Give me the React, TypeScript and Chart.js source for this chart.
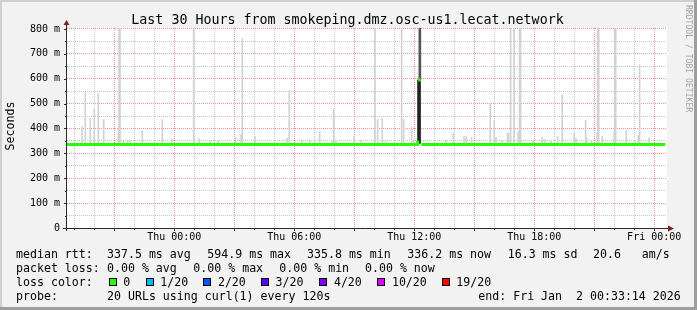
import React, { useEffect, useRef } from 'react';
import { Chart, registerables } from 'chart.js';

Chart.register(...registerables);

const MONO = '"DejaVu Sans Mono", "Liberation Mono", monospace';

const CHART_TITLE = 'Last 30 Hours from smokeping.dmz.osc-us1.lecat.network';
const Y_TITLE = 'Seconds';
const WATERMARK = 'RRDTOOL / TOBI OETIKER';

// time axis in hours relative to Thu 00:00
const X_MIN_HOURS = -5.365;
const X_MAX_HOURS = 24.64;
const TIME_TICK_HOURS = [0, 6, 12, 18, 24];
const TIME_TICK_LABELS = ['Thu 00:00', 'Thu 06:00', 'Thu 12:00', 'Thu 18:00', 'Fri 00:00'];

// value axis (ms)
const Y_MAX_MS = 804;
const Y_LABEL_VALUES = [0, 100, 200, 300, 400, 500, 600, 700, 800];
const Y_LABEL_TEXTS = ['0', '100 m', '200 m', '300 m', '400 m', '500 m', '600 m', '700 m', '800 m'];

// median rtt (ms); null = gap
const MEDIAN_HOURS = [-5.446, 12.1, 12.17, 12.18, 12.2, 12.33, 12.34, 12.36, 24.554];
const MEDIAN_MS = [336, 336, 352, null, 595, 595, null, 336, 336];

// smoke (individual ping spread), bottom and top in ms
const SMOKE_FLOOR_MS = 338;
const SMOKE_HOURS = [
  -4.615, -4.45, -4.2, -4.0, -3.8, -3.53, -2.8, -2.54, -2.33, -2.2, -1.6, -0.6, -0.13,
  0.97, 1.25, 1.79, 2.19, 3.07, 3.34, 3.4, 4.04, 5.64, 5.75, 6.39, 6.79, 7.27, 7.89, 7.97,
  8.09, 8.99, 9.34, 10.04, 10.17, 10.4, 10.57, 11.37, 11.47, 11.87, 11.99, 13.59, 13.95,
  14.49, 14.6, 14.87, 15.8, 16.0, 16.09, 16.39, 16.82, 16.99, 17.2, 17.94, 18.4, 18.54,
  18.84, 19.17, 19.4, 20.0, 20.09, 20.57, 20.63, 20.87, 21.15, 21.4, 22.0, 22.6, 23.03,
  23.2, 23.27, 23.74,
];
const SMOKE_TOP_MS = [
  408, 545, 441, 480, 541, 436, 381, 350, 352, 352, 392, 436, 356,
  850, 360, 352, 352, 364, 376, 761, 368, 360, 552, 350, 348, 388, 350, 479,
  350, 368, 354, 850, 436, 441, 354, 850, 436, 404, 350, 352, 380,
  368, 368, 364, 500, 432, 364, 350, 850, 850, 385, 350, 364, 356,
  348, 368, 535, 380, 360, 432, 360, 350, 384, 368, 386, 392, 352,
  372, 656, 360,
];
const WIDE_SMOKE_HOURS = [-2.74, 16.69, 17.29, 21.2, 22.05];
const WIDE_SMOKE_TOP_MS = [850, 381, 850, 850, 850];

// dense smoke at the 12:00 event
const DENSE_SMOKE_HOURS = [12.24];
const DENSE_SMOKE_LOW_MS = [340];
const DENSE_SMOKE_HIGH_MS = [595];
const OUTER_SMOKE_HOURS = [12.28];
const OUTER_SMOKE_LOW_MS = [595];
const OUTER_SMOKE_HIGH_MS = [850];

// legend
const MEDIAN_LABEL = 'median rtt:';
const MEDIAN_LEGEND = ['337.5 ms avg', '594.9 ms max', '335.8 ms min', '336.2 ms now', '16.3 ms sd', '20.6   am/s'];
const LOSS_LABEL = 'packet loss:';
const LOSS_LEGEND = ['0.00 % avg', '0.00 % max', '0.00 % min', '0.00 % now'];
const LOSS_COLOR_LABEL = 'loss color:';
const LOSS_COLOR_LABELS = ['0', '1/20', '2/20', '3/20', '4/20', '10/20', '19/20'];
const LOSS_COLORS = ['#26ff00', '#00b8ff', '#0059ff', '#5e00ff', '#7e00ff', '#dd00ff', '#ff0000'];
const PROBE_LABEL = 'probe:';
const PROBE_TEXT = '20 URLs using curl(1) every 120s';
const END_TEXT = 'end: Fri Jan  2 00:33:14 2026';

const GRID_COLOR = 'rgba(143,143,143,0.5)';
const MGRID_COLOR = 'rgba(222,79,79,0.6)';
const AXIS_COLOR = '#2a2a2a';
const ARROW_COLOR = '#801f1f';
const SMOKE_COLOR = '#d2d2d2';

const rrdPlugin = {
  id: 'rrdDecor',
  beforeDraw(chart: any) {
    const { ctx, width, height, chartArea: a } = chart;
    ctx.save();
    ctx.fillStyle = '#f2f2f2';
    ctx.fillRect(0, 0, width, height);
    ctx.fillStyle = '#cfcfcf';
    ctx.fillRect(0, 0, width, 2);
    ctx.fillRect(0, 0, 2, height);
    ctx.fillStyle = '#9e9e9e';
    ctx.fillRect(width - 3, 0, 3, height);
    ctx.fillRect(0, height - 3, width, 3);
    ctx.fillStyle = '#ffffff';
    ctx.fillRect(a.left, a.top, a.right - a.left, a.bottom - a.top);
    ctx.restore();
  },
  afterDraw(chart: any) {
    const { ctx, chartArea: a, scales } = chart;
    const xs = scales.x;
    const ys = scales.y;
    ctx.save();
    // tick marks
    ctx.strokeStyle = AXIS_COLOR;
    ctx.lineWidth = 1;
    ctx.beginPath();
    for (let v = 0; v <= 800; v += 50) {
      const y = Math.round(ys.getPixelForValue(v)) + 0.5;
      const len = v % 100 === 0 ? 3 : 2;
      ctx.moveTo(a.left - len, y);
      ctx.lineTo(a.left, y);
    }
    for (let h = Math.ceil(X_MIN_HOURS); h <= X_MAX_HOURS; h++) {
      const x = Math.round(xs.getPixelForValue(h)) + 0.5;
      const len = h % 3 === 0 ? 3 : 2;
      ctx.moveTo(x, a.bottom);
      ctx.lineTo(x, a.bottom + len);
    }
    ctx.stroke();
    // axes
    const ax = a.left - 0.5;
    const ay = a.bottom + 0.5;
    ctx.beginPath();
    ctx.moveTo(ax, a.bottom + 3);
    ctx.lineTo(ax, a.top - 3);
    ctx.moveTo(a.left - 4, ay);
    ctx.lineTo(a.right + 1, ay);
    ctx.stroke();
    // arrows
    ctx.fillStyle = ARROW_COLOR;
    ctx.beginPath();
    ctx.moveTo(ax, a.top - 8);
    ctx.lineTo(ax - 3, a.top - 3);
    ctx.lineTo(ax + 3, a.top - 3);
    ctx.closePath();
    ctx.fill();
    ctx.beginPath();
    ctx.moveTo(a.right + 7, ay);
    ctx.lineTo(a.right + 1, ay - 3);
    ctx.lineTo(a.right + 1, ay + 3);
    ctx.closePath();
    ctx.fill();

    // title
    ctx.fillStyle = '#000';
    ctx.textBaseline = 'alphabetic';
    ctx.textAlign = 'center';
    ctx.font = `13.3px ${MONO}`;
    ctx.fillText(CHART_TITLE, 347.5, 24);

    // y title
    ctx.save();
    ctx.font = `11.6px ${MONO}`;
    ctx.translate(14, 126);
    ctx.rotate(-Math.PI / 2);
    ctx.textAlign = 'center';
    ctx.textBaseline = 'alphabetic';
    ctx.fillText(Y_TITLE, 0, 0);
    ctx.restore();

    // watermark
    ctx.save();
    ctx.font = `8.1px ${MONO}`;
    ctx.fillStyle = 'rgba(0,0,0,0.35)';
    ctx.translate(688, 5);
    ctx.rotate(Math.PI / 2);
    ctx.textAlign = 'left';
    ctx.textBaseline = 'middle';
    ctx.fillText(WATERMARK, 0, 0);
    ctx.restore();

    // legend
    ctx.font = `11.6px ${MONO}`;
    ctx.textAlign = 'left';
    ctx.fillStyle = '#000';
    const row1 = [107, 207.3, 307, 407.3, 507.7, 593];
    ctx.fillText(MEDIAN_LABEL, 16, 258);
    MEDIAN_LEGEND.forEach((t, i) => ctx.fillText(t, row1[i], 258));
    const row2 = [107, 193.3, 279.3, 365];
    ctx.fillText(LOSS_LABEL, 16, 272);
    LOSS_LEGEND.forEach((t, i) => ctx.fillText(t, row2[i], 272));
    const sq = [108.7, 145.7, 203.3, 261, 319.3, 377.3, 441.7];
    ctx.fillText(LOSS_COLOR_LABEL, 16, 286);
    LOSS_COLOR_LABELS.forEach((t, i) => {
      const x = Math.round(sq[i]);
      ctx.fillStyle = LOSS_COLORS[i];
      ctx.fillRect(x, 278, 8, 8);
      ctx.strokeStyle = '#000';
      ctx.strokeRect(x + 0.5, 278.5, 7, 7);
      ctx.fillStyle = '#000';
      ctx.fillText(t, sq[i] + 14.6, 286);
    });
    ctx.fillText(PROBE_LABEL, 16, 299.5);
    ctx.fillText(PROBE_TEXT, 107, 299.5);
    ctx.fillText(END_TEXT, 478.3, 299.5);
    ctx.restore();
  },
};

export default function App() {
  const ref = useRef<HTMLCanvasElement | null>(null);

  useEffect(() => {
    document.body.style.margin = '0';
    const canvas = ref.current;
    if (!canvas) return;

    const smoke = SMOKE_HOURS.map((h, i) => ({ x: h, y: [SMOKE_FLOOR_MS, SMOKE_TOP_MS[i]] }));
    const wide = WIDE_SMOKE_HOURS.map((h, i) => ({ x: h, y: [SMOKE_FLOOR_MS, WIDE_SMOKE_TOP_MS[i]] }));
    const dense = DENSE_SMOKE_HOURS.map((h, i) => ({ x: h, y: [DENSE_SMOKE_LOW_MS[i], DENSE_SMOKE_HIGH_MS[i]] }));
    const outer = OUTER_SMOKE_HOURS.map((h, i) => ({ x: h, y: [OUTER_SMOKE_LOW_MS[i], OUTER_SMOKE_HIGH_MS[i]] }));
    const median = MEDIAN_HOURS.map((h, i) => ({ x: h, y: MEDIAN_MS[i] }));

    const chart = new Chart(canvas, {
      type: 'bar',
      data: {
        datasets: [
          { type: 'bar', data: smoke as any, backgroundColor: SMOKE_COLOR, barThickness: 1, grouped: false, borderWidth: 0, order: 5 } as any,
          { type: 'bar', data: wide as any, backgroundColor: SMOKE_COLOR, barThickness: 2, grouped: false, borderWidth: 0, order: 4 } as any,
          { type: 'bar', data: outer as any, backgroundColor: '#555555', barThickness: 2, grouped: false, borderWidth: 0, order: 3 } as any,
          { type: 'bar', data: dense as any, backgroundColor: '#222222', barThickness: 3, grouped: false, borderWidth: 0, order: 2 } as any,
          {
            type: 'line', data: median as any, borderColor: '#26ff00', borderWidth: 3, pointRadius: 0,
            stepped: true, spanGaps: false, borderCapStyle: 'butt', fill: false, order: 0,
          } as any,
        ],
      },
      options: {
        responsive: false,
        animation: false,
        events: [],
        layout: { padding: { left: 0, top: 28, right: 30, bottom: 62 } },
        plugins: { legend: { display: false }, tooltip: { enabled: false }, title: { display: false } },
        scales: {
          x: {
            type: 'linear',
            min: X_MIN_HOURS,
            max: X_MAX_HOURS,
            offset: false,
            ticks: {
              stepSize: 1,
              autoSkip: false,
              maxRotation: 0,
              includeBounds: false,
              padding: 3,
              color: '#000',
              font: { family: MONO, size: 10 },
              callback: (v: any) => {
                const i = TIME_TICK_HOURS.findIndex((h) => Math.abs(h - Number(v)) < 1e-6);
                return i >= 0 ? TIME_TICK_LABELS[i] : '';
              },
            },
            grid: {
              offset: false,
              drawTicks: false,
              color: (c: any) => (c.tick && Math.round(c.tick.value) % 3 === 0 ? MGRID_COLOR : GRID_COLOR),
            },
            border: { display: false, dash: [1, 1] },
            afterFit: (s: any) => { s.height = 20; },
          },
          y: {
            type: 'linear',
            min: 0,
            max: Y_MAX_MS,
            ticks: {
              stepSize: 50,
              autoSkip: false,
              includeBounds: false,
              padding: 7,
              color: '#000',
              font: { family: MONO, size: 10 },
              callback: (v: any) => {
                const i = Y_LABEL_VALUES.indexOf(Number(v));
                return i >= 0 ? Y_LABEL_TEXTS[i] : '';
              },
            },
            grid: {
              drawTicks: false,
              color: (c: any) => (c.tick && c.tick.value % 100 === 0 ? MGRID_COLOR : GRID_COLOR),
            },
            border: { display: false, dash: [1, 1] },
            afterFit: (s: any) => { s.width = 67; },
          },
        },
      } as any,
      plugins: [rrdPlugin],
    });
    return () => chart.destroy();
  }, []);

  return (
    <div style={{ width: 697, height: 310 }}>
      <canvas ref={ref} width={697} height={310} style={{ display: 'block', width: 697, height: 310 }} />
    </div>
  );
}
